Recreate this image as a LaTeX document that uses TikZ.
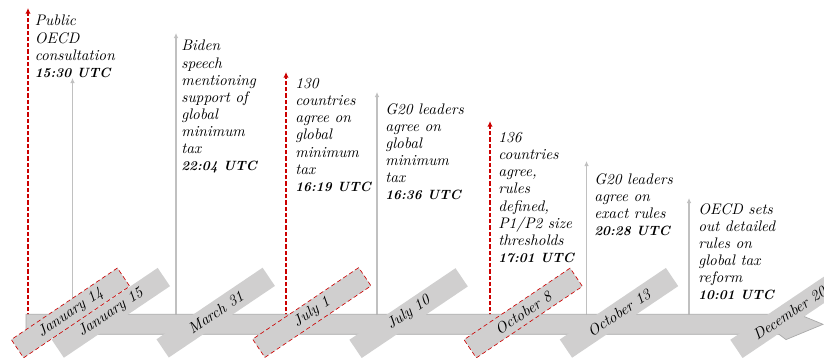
\documentclass[tikz,border=0pt]{standalone}
\usetikzlibrary{arrows.meta}
\definecolor{bandgray}{RGB}{208,207,207}
\definecolor{bandedge}{RGB}{170,170,170}
\definecolor{evred}{RGB}{204,0,0}
\definecolor{linegray}{RGB}{192,192,192}
\newcommand{\utc}[1]{{\fontsize{9.4}{12}\selectfont\bfseries #1}}
\tikzset{
  redline/.style={evred, line width=1.6pt, dash pattern=on 3pt off 1.4pt, -{Latex[length=4pt,width=3.8pt]}},
  grayline/.style={linegray, line width=1.2pt, -{Latex[length=3.5pt,width=3.2pt]}},
  evtext/.style={anchor=north west, inner sep=0pt, align=left, font=\fontsize{10.7}{12}\selectfont\itshape},
  datebox/.style={fill=bandgray, minimum width=89.6pt, minimum height=15.4pt, inner sep=0pt, font=\fontsize{10.7}{12}\selectfont\itshape, rotate=34},
  reddate/.style={datebox, draw=evred, densely dashed, line width=0.45pt},
  band/.style={fill=bandgray, draw=bandedge, line width=0.5pt}
}
\begin{document}
\begin{tikzpicture}[x=0.7pt,y=-0.7pt]
\useasboundingbox (0,0) rectangle (824,357);
% event lines
\coordinate (b1) at (28,324);   \coordinate (t1) at (28,8);
\coordinate (b2) at (72.5,324); \coordinate (t2) at (72.5,78);
\coordinate (b3) at (176,324);  \coordinate (t3) at (176,33);
\coordinate (b4) at (286,324);  \coordinate (t4) at (286,72);
\coordinate (b5) at (377,324);  \coordinate (t5) at (377,92);
\coordinate (b6) at (490,324);  \coordinate (t6) at (490,121);
\coordinate (b7) at (586.5,324);\coordinate (t7) at (586.5,161);
\coordinate (b8) at (689,324);  \coordinate (t8) at (689,198);
\draw[redline] (b1) -- (t1);
\draw[grayline] (b2) -- (t2);
\draw[grayline] (b3) -- (t3);
\draw[redline] (b4) -- (t4);
\draw[grayline] (b5) -- (t5);
\draw[redline] (b6) -- (t6);
\draw[grayline] (b7) -- (t7);
\draw[grayline] (b8) -- (t8);
% event texts
\node[evtext] (e1) at (34.5,15) {Public\\OECD\\consultation\\\utc{15:30 UTC}};
\node[evtext] (e3) at (181,40) {Biden\\speech\\mentioning\\support of\\global\\minimum\\tax\\\utc{22:04 UTC}};
\node[evtext] (e4) at (295,78) {130\\countries\\agree on\\global\\minimum\\tax\\\utc{16:19 UTC}};
\node[evtext] (e5) at (385,103) {G20 leaders\\agree on\\global\\minimum\\tax\\\utc{16:36 UTC}};
\node[evtext] (e6) at (498,132) {136\\countries\\agree,\\rules\\defined,\\P1/P2 size\\thresholds\\\utc{17:01 UTC}};
\node[evtext] (e7) at (594,173) {G20 leaders\\agree on\\exact rules\\\utc{20:28 UTC}};
\node[evtext] (e8) at (698,203) {OECD sets\\out detailed\\rules on\\global tax\\reform\\\utc{10:01 UTC}};
% timeline band
\draw[band] (26,314.3) -- (779,314.3) -- (786,309) -- (823,324.3) -- (786,339.6) -- (779,334.3) -- (26,334.3) -- cycle;
% date boxes
\node[datebox] (d2) at (110.8,312.8) {January 15};
\node[datebox] (d3) at (215.7,312.6) {March 31};
\node[datebox] (d5) at (408.6,313.1) {July 10};
\node[datebox] (d7) at (619,312.8) {October 13};
\node[datebox] (d8) at (789.5,313.1) {December 20};
\node[reddate] (d1) at (70.5,312.9) {January 14};
\node[reddate] (d4) at (311.8,312.5) {July 1};
\node[reddate] (d6) at (523.2,313) {October 8};
\end{tikzpicture}
\end{document}
